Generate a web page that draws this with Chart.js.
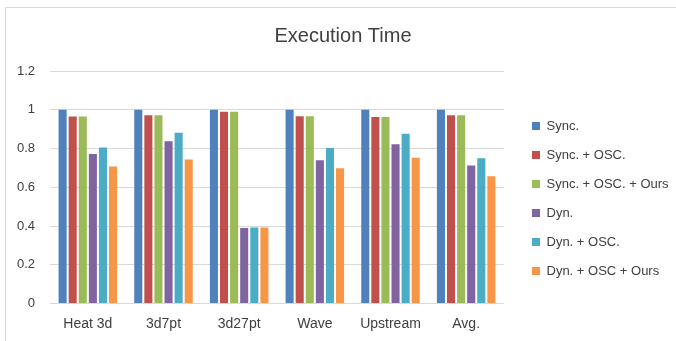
<!DOCTYPE html>
<html>
<head>
<meta charset="utf-8">
<script src="https://cdn.jsdelivr.net/npm/chart.js@4.4.1/dist/chart.umd.min.js"></script>
<style>
  html, body { margin: 0; padding: 0; background: #ffffff; }
  #wrap { width: 676px; height: 341px; position: relative; }
</style>
</head>
<body>
<div id="wrap"><canvas id="c" width="676" height="341"></canvas></div>
<script>
const categories = ['Heat 3d', '3d7pt', '3d27pt', 'Wave', 'Upstream', 'Avg.'];
const seriesNames = ['Sync.', 'Sync. + OSC.', 'Sync. + OSC. + Ours', 'Dyn.', 'Dyn. + OSC.', 'Dyn. + OSC + Ours'];
const sync        = [1.000, 1.000, 1.000, 1.000, 1.000, 1.000];
const syncOsc     = [0.965, 0.972, 0.990, 0.967, 0.962, 0.972];
const syncOscOurs = [0.965, 0.972, 0.990, 0.967, 0.962, 0.972];
const dyn         = [0.772, 0.838, 0.390, 0.740, 0.822, 0.712];
const dynOsc      = [0.805, 0.881, 0.392, 0.802, 0.876, 0.750];
const dynOscOurs  = [0.707, 0.743, 0.392, 0.698, 0.752, 0.657];
const yTicks = [0, 0.2, 0.4, 0.6, 0.8, 1, 1.2];
const yTickLabels = ['0', '0.2', '0.4', '0.6', '0.8', '1', '1.2'];
const colors = ['#4F81BD', '#C0504D', '#9BBB59', '#8064A2', '#4BACC6', '#F79646'];

const seriesValues = [sync, syncOsc, syncOscOurs, dyn, dynOsc, dynOscOurs];
const datasets = seriesValues.map((vals, i) => ({
  label: seriesNames[i],
  data: vals,
  backgroundColor: colors[i],
  borderWidth: 0,
  categoryPercentage: 0.8,
  barPercentage: 0.8
}));

const frame = {
  id: 'frame',
  beforeDraw(chart) {
    const ctx = chart.ctx;
    ctx.save();
    ctx.strokeStyle = '#D9D9D9';
    ctx.lineWidth = 1;
    ctx.beginPath();
    ctx.moveTo(5.5, 341);
    ctx.lineTo(5.5, 7.5);
    ctx.lineTo(676, 7.5);
    ctx.stroke();
    ctx.restore();
  }
};

const legendPlace = {
  id: 'legendPlace',
  beforeLayout(chart) {
    const lg = chart.legend;
    if (lg && !lg._patched) {
      const f = lg.fit.bind(lg);
      lg.fit = function () { f(); this.width = 172; };
      lg._patched = true;
    }
  },
  afterLayout(chart) {
    const lg = chart.legend;
    if (!lg) return;
    const w = lg.width;
    lg.left = 516; lg.right = 516 + w;
    lg.top = 103.5; lg.bottom = 341;
  }
};

new Chart(document.getElementById('c'), {
  type: 'bar',
  data: { labels: categories, datasets },
  plugins: [frame, legendPlace],
  options: {
    responsive: false,
    devicePixelRatio: 1,
    animation: false,
    layout: { padding: { left: 10, right: 0, top: 0, bottom: 0 } },
    plugins: {
      title: {
        display: true,
        text: 'Execution Time',
        color: '#404040',
        font: { family: 'Liberation Sans', size: 20, weight: 'normal' },
        padding: { top: 24, bottom: 23 }
      },
      legend: {
        position: 'right',
        align: 'start',
        labels: {
          boxWidth: 8,
          boxHeight: 8,
          padding: 16,
          color: '#404040',
          font: { family: 'Liberation Sans', size: 13 }
        }
      },
      tooltip: { enabled: false }
    },
    scales: {
      x: {
        grid: { display: false, drawTicks: false },
        border: { display: false },
        ticks: {
          color: '#404040',
          padding: 12,
          font: { family: 'Liberation Sans', size: 14 }
        },
        afterFit(scale) { scale.height = 37.5; }
      },
      y: {
        min: 0,
        max: 1.2,
        grid: { color: '#D9D9D9', lineWidth: 1, drawTicks: false },
        border: { display: false },
        afterBuildTicks(scale) { scale.ticks = yTicks.map(v => ({ value: v })); },
        ticks: {
          color: '#404040',
          padding: 15,
          font: { family: 'Liberation Sans', size: 13 },
          callback(value, index) { return yTickLabels[index]; }
        },
        afterFit(scale) { scale.width = 40; }
      }
    }
  }
});
</script>
</body>
</html>
